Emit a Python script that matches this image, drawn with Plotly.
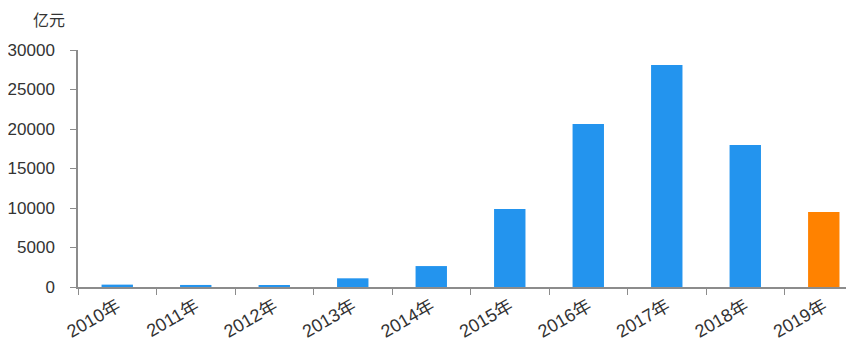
import plotly.graph_objects as go

categories = ["2010年", "2011年", "2012年", "2013年", "2014年", "2015年", "2016年", "2017年", "2018年", "2019年"]
values = [300, 260, 250, 1100, 2650, 9870, 20630, 28100, 17970, 9490]
bar_colors = ["#2394EE"] * 9 + ["#FF8200"]
y_ticks = [0, 5000, 10000, 15000, 20000, 25000, 30000]
unit_label = "亿元"

font_family = "Liberation Sans, Noto Sans CJK SC, sans-serif"

fig = go.Figure(go.Bar(
    x=categories, y=values,
    marker=dict(color=bar_colors, line=dict(width=0)),
    width=0.4,
))

fig.update_layout(
    width=846, height=343,
    margin=dict(l=70, r=0, t=42, b=64, autoexpand=False),
    plot_bgcolor="white", paper_bgcolor="white",
    showlegend=False,
    font=dict(family=font_family, size=16, color="#333333"),
    xaxis=dict(
        type="category",
        range=[-0.5, 9.385],
        automargin=False,
        showline=True, linecolor="#8c8c8c", linewidth=1.5,
        ticks="outside", tickson="boundaries", ticklen=6, tickcolor="#8c8c8c",
        tickangle=-30, tickfont=dict(size=18, color="#333333"),
        showgrid=False, zeroline=False,
    ),
    yaxis=dict(
        range=[0, 30000],
        automargin=False,
        tickvals=y_ticks,
        ticktext=[str(v) for v in y_ticks],
        showline=True, linecolor="#8c8c8c", linewidth=1.5,
        ticks="outside", ticklen=6, tickcolor="#8c8c8c",
        ticklabelstandoff=12,
        tickfont=dict(size=17, color="#333333"),
        showgrid=False, zeroline=False,
    ),
    annotations=[dict(
        text=unit_label, xref="paper", yref="paper",
        x=0, y=1.0, xshift=-29, yshift=30, xanchor="center", yanchor="middle",
        showarrow=False, font=dict(size=16, color="#333333"),
    )],
)

fig.write_html("out.html")
